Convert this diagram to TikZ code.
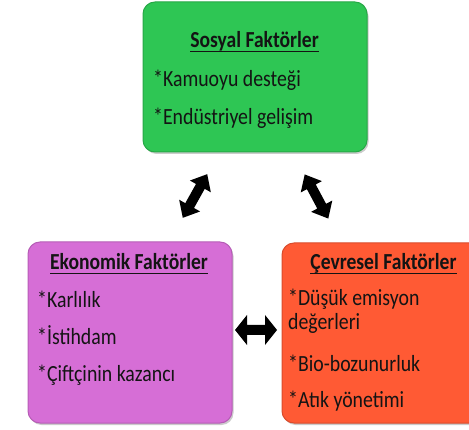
\documentclass[tikz,border=0pt]{standalone}
\usepackage{fontspec}
\setmainfont{Carlito}
\definecolor{boxgreen}{RGB}{46,198,84}
\definecolor{boxpurple}{RGB}{214,110,214}
\definecolor{boxorange}{RGB}{255,90,52}
\newcommand{\tallText}[1]{\scalebox{1}[1.17]{#1}}
\newcommand{\ulTitle}[1]{\setbox0\hbox{#1}\leavevmode\rlap{\rule[-3.6pt]{\wd0}{1.2pt}}\box0}
\tikzset{
  factorbox/.style={rounded corners=12pt, line width=1pt},
  boxshadow/.style={rounded corners=12pt, fill=black!45, opacity=0.45},
  titletext/.style={font=\fontsize{19.6}{22}\selectfont\bfseries, anchor=base, inner sep=0pt, text=black!92},
  itemtext/.style={font=\fontsize{19.8}{22}\selectfont, anchor=base west, inner sep=0pt, text=black!92}
}
\begin{document}
\begin{tikzpicture}[x=1pt,y=1pt]
\useasboundingbox (0,0) rectangle (469,429);
\clip (0,0) rectangle (469,429);
% shadows
\fill[boxshadow] (144.5,275) rectangle (368.5,425);
\fill[boxshadow] (29.5,4) rectangle (233.5,185);
\fill[boxshadow] (283.5,4) rectangle (487,184);
% boxes
\draw[factorbox, fill=boxgreen, draw=boxgreen!85!black] (143,277) rectangle (367,427);
\draw[factorbox, fill=boxpurple, draw=boxpurple!85!black] (28,6) rectangle (232,187);
\draw[factorbox, fill=boxorange, draw=boxorange!85!black] (282,6) rectangle (485,186);
% green
\node[titletext] (sostitle) at (254.5,381) {\tallText{\ulTitle{Sosyal Faktörler}}};
\node[itemtext] (sos1) at (153,342) {\tallText{*Kamuoyu desteği}};
\node[itemtext] (sos2) at (153,304) {\tallText{*Endüstriyel gelişim}};
% purple
\node[titletext] (ekotitle) at (129,159) {\tallText{\ulTitle{Ekonomik Faktörler}}};
\node[itemtext] (eko1) at (37,121) {\tallText{*Karlılık}};
\node[itemtext] (eko2) at (37,84) {\tallText{*İstihdam}};
\node[itemtext] (eko3) at (37,47) {\tallText{*Çiftçinin kazancı}};
% orange
\node[titletext] (cevtitle) at (383.5,159) {\tallText{\ulTitle{Çevresel Faktörler}}};
\node[itemtext] (cev1) at (288,123) {\tallText{*Düşük emisyon}};
\node[itemtext] (cev1b) at (288,99) {\tallText{değerleri}};
\node[itemtext] (cev2) at (288,57) {\tallText{*Bio-bozunurluk}};
\node[itemtext] (cev3) at (288,21) {\tallText{*Atık yönetimi}};
% arrows
\coordinate (arrH) at (256,99);
\coordinate (arrL) at (195,233);
\coordinate (arrR) at (316.5,232.5);
\begin{scope}[shift={(arrH)}]
\fill[black] (-21,0) -- (-9,15) -- (-9,5) -- (9,5) -- (9,15) -- (21,0) -- (9,-15) -- (9,-5) -- (-9,-5) -- (-9,-15) -- cycle;
\end{scope}
\begin{scope}[shift={(arrL)}, rotate=60.8]
\fill[black] (-25,0) -- (-11,12) -- (-11,5) -- (11,5) -- (11,12) -- (25,0) -- (11,-12) -- (11,-5) -- (-11,-5) -- (-11,-12) -- cycle;
\end{scope}
\begin{scope}[shift={(arrR)}, rotate=-61.9]
\fill[black] (-25,0) -- (-11,12) -- (-11,5) -- (11,5) -- (11,12) -- (25,0) -- (11,-12) -- (11,-5) -- (-11,-5) -- (-11,-12) -- cycle;
\end{scope}
\end{tikzpicture}
\end{document}
